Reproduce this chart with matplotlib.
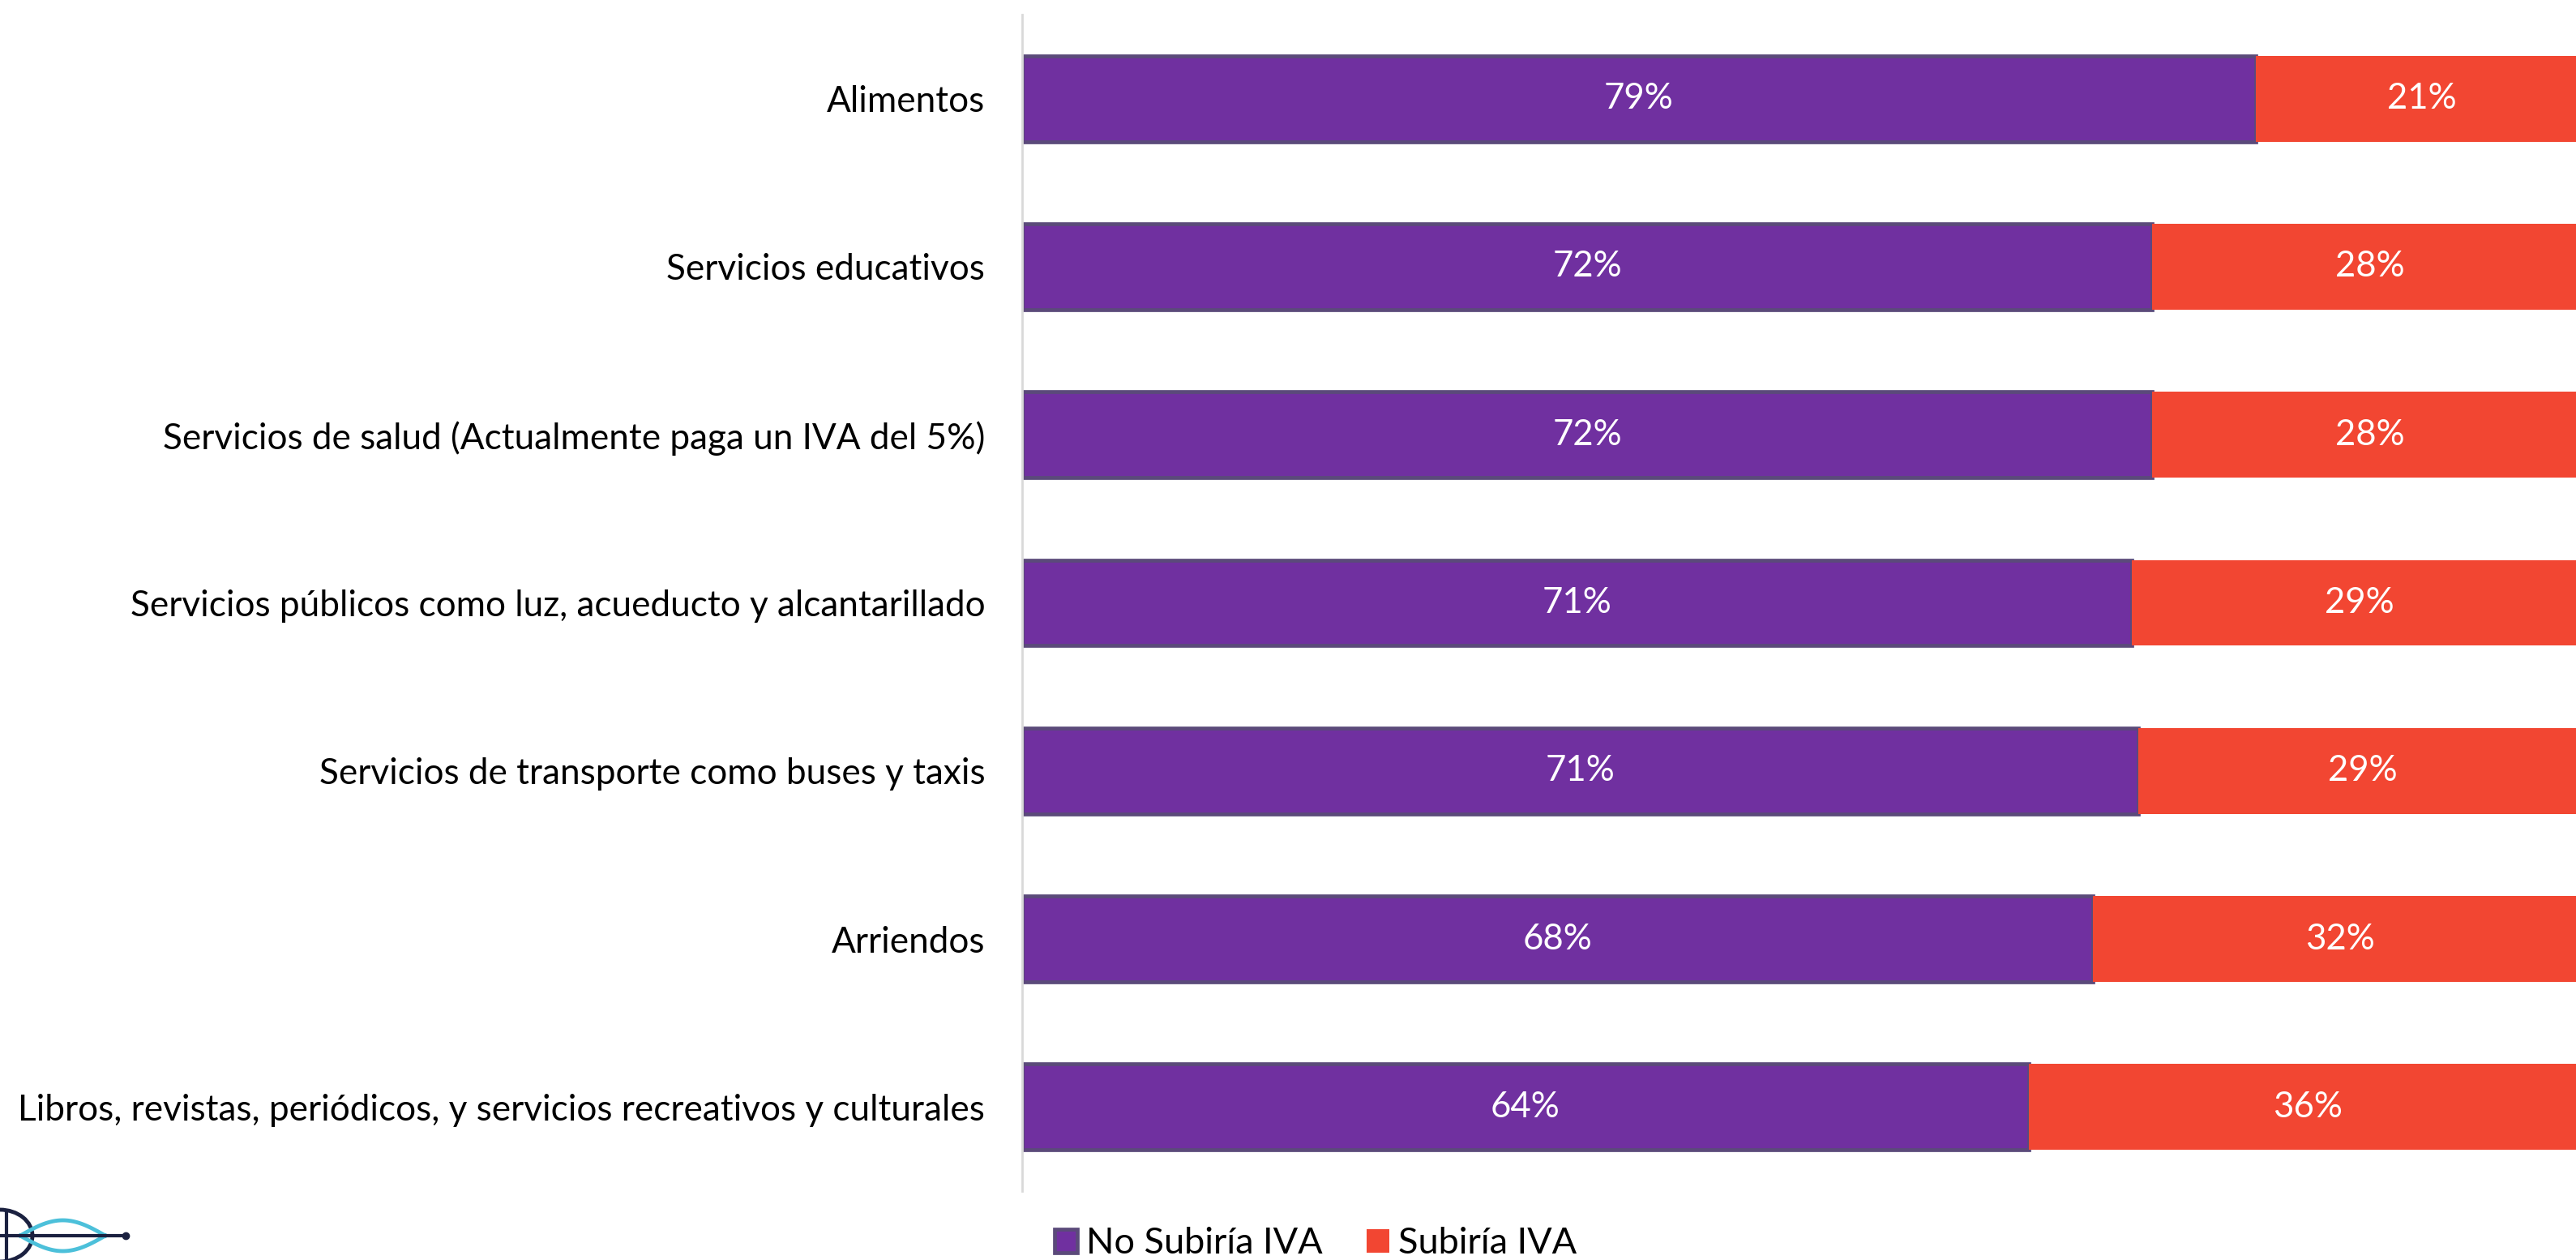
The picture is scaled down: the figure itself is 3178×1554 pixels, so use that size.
import matplotlib
matplotlib.use("Agg")
import matplotlib.pyplot as plt
import numpy as np
from matplotlib.patches import Ellipse

categories = [
    "Alimentos",
    "Servicios educativos",
    "Servicios de salud (Actualmente paga un IVA del 5%)",
    "Servicios públicos como luz, acueducto y alcantarillado",
    "Servicios de transporte como buses y taxis",
    "Arriendos",
    "Libros, revistas, periódicos, y servicios recreativos y culturales",
]
no_subiria = [78.8, 72.2, 72.2, 70.9, 71.3, 68.4, 64.3]
subiria = [21.2, 27.8, 27.8, 29.1, 28.7, 31.6, 35.7]
no_labels = ["79%", "72%", "72%", "71%", "71%", "68%", "64%"]
si_labels = ["21%", "28%", "28%", "29%", "29%", "32%", "36%"]
series_names = ["No Subiría IVA", "Subiría IVA"]

PURPLE = "#7030A0"
PURPLE_EDGE = "#5B4A7A"
RED = "#F24632"
FONT = ["Lato", "DejaVu Sans"]
plt.rcParams["font.family"] = FONT

W, H = 3178, 1554
fig = plt.figure(figsize=(W / 100, H / 100), dpi=100)
ax_left = 1261 / W
ax_right = 3192 / W
ax_top = 1 - 18 / H
ax_bot = 1 - 1469 / H
ax = fig.add_axes([ax_left, ax_bot, ax_right - ax_left, ax_top - ax_bot])

y = np.arange(len(categories))
BAR_H = 0.511
b1 = ax.barh(y, no_subiria, height=BAR_H, color=PURPLE, edgecolor=PURPLE_EDGE,
             linewidth=3.4, label=series_names[0])
b2 = ax.barh(y, subiria, left=no_subiria, height=BAR_H, color=RED,
             edgecolor="none", linewidth=0, label=series_names[1])

for i in range(len(categories)):
    ax.text(no_subiria[i] / 2, y[i], no_labels[i], ha="center", va="center",
            color="white", fontsize=31.5)
    ax.text(no_subiria[i] + subiria[i] / 2, y[i], si_labels[i], ha="center",
            va="center", color="white", fontsize=31.5)

ax.set_xlim(0, 100)
ax.set_ylim(len(categories) - 0.5, -0.5)
ax.set_yticks(y)
ax.set_yticklabels(categories, fontsize=31.8, color="black")
ax.tick_params(axis="y", length=0, pad=33)
ax.set_xticks([])
for s in ["top", "right", "bottom"]:
    ax.spines[s].set_visible(False)
ax.spines["left"].set_color("#D9D9D9")
ax.spines["left"].set_linewidth(2)

leg = fig.legend(handles=[b1, b2], labels=series_names, loc="center",
                 bbox_to_anchor=(1623 / W, 1 - 1534 / H), ncol=2, frameon=False,
                 fontsize=32.5, handlelength=0.62, handleheight=0.62,
                 handletextpad=0.24, columnspacing=1.2, borderpad=0)

# small logo in lower-left corner
lax = fig.add_axes([0, 0, 200 / W, 84 / H])
lax.set_xlim(0, 200)
lax.set_ylim(84, 0)
lax.axis("off")
tt = np.linspace(0, 1, 100)
xs = 25 + 105 * tt
amp = 19 * np.sin(np.pi * tt)
lax.plot(xs, 54 - amp, color="#4CC0DA", lw=3.5)
lax.plot(xs, 54 + amp, color="#4CC0DA", lw=3.5)
lax.add_patch(Ellipse((0, 54), 80, 64, fill=False, ec="#1B2140", lw=3.5))
lax.plot([0, 155], [54, 54], color="#1B2140", lw=3)
lax.plot([155], [54], "o", color="#1B2140", ms=6)
lax.plot([8, 8], [24, 84], color="#1B2140", lw=3)

fig.savefig("out.png", dpi=100)
